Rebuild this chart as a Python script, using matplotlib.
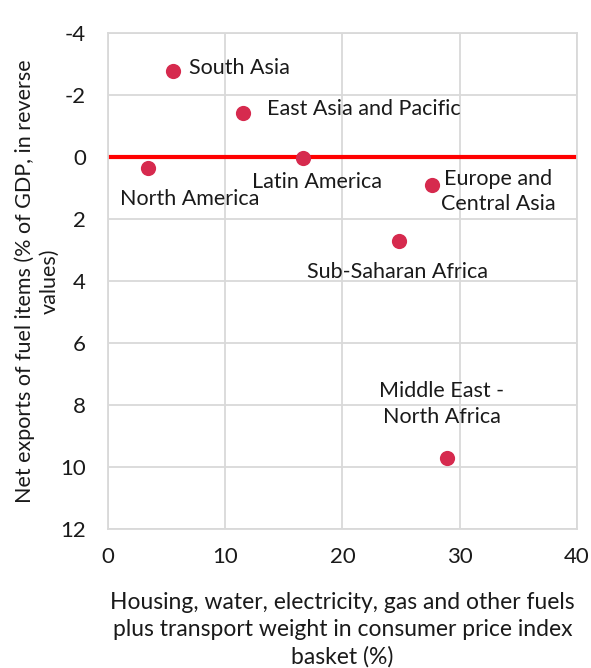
import matplotlib

matplotlib.use("Agg")
import matplotlib.pyplot as plt

regions = [
    "South Asia",
    "East Asia and Pacific",
    "North America",
    "Latin America",
    "Europe and\nCentral Asia",
    "Sub-Saharan Africa",
    "Middle East -\nNorth Africa",
]
cpi_weight = [5.5, 11.5, 3.4, 16.6, 27.6, 24.8, 28.95]
net_fuel_exports = [-2.78, -1.4, 0.36, 0.05, 0.9, 2.73, 9.7]

# label offsets in points, relative to each marker
offsets = [(12, 2), (17, 3), (30, -22), (10, -17), (48, -5), (-1, -22), (-4, 38.5)]
aligns = ["left", "left", "center", "center", "center", "center", "center"]

plt.rcParams["font.family"] = ["Lato", "DejaVu Sans"]
plt.rcParams["axes.unicode_minus"] = False

fig = plt.figure(figsize=(5.91, 6.68), dpi=100)
ax = fig.add_axes([0.183, 0.208, 0.793, 0.743])

ax.axhline(0, color="#FF0000", linewidth=3, zorder=2)
ax.scatter(cpi_weight, net_fuel_exports, s=120, color="#D62A4E", zorder=3,
           linewidths=0)

for name, x, y, off, ha in zip(regions, cpi_weight, net_fuel_exports, offsets, aligns):
    ax.annotate(name, (x, y), xytext=off, textcoords="offset points",
                ha=ha, va="center", fontsize=15.5, color="#1a1a1a",
                linespacing=1.35)

ax.set_xlim(0, 40)
ax.set_ylim(12, -4)
ax.set_xticks(range(0, 41, 10))
ax.set_yticks(range(-4, 13, 2))
ax.grid(color="#D9D9D9", linewidth=1.3)
ax.set_axisbelow(True)
for sp in ax.spines.values():
    sp.set_color("#D9D9D9")
    sp.set_linewidth(1.3)
ax.tick_params(axis="y", length=0, labelsize=16, pad=16, colors="#1a1a1a")
ax.tick_params(axis="x", length=0, labelsize=16, pad=13, colors="#1a1a1a")

ax.set_xlabel("Housing, water, electricity, gas and other fuels\n"
              "plus transport weight in consumer price index\nbasket (%)",
              fontsize=16.5, labelpad=18, linespacing=1.35, color="#1a1a1a")
ax.set_ylabel("Net exports of fuel items (% of GDP, in reverse\nvalues)",
              fontsize=15.5, linespacing=1.3, color="#1a1a1a", va="center")
ax.yaxis.set_label_coords(-0.151, 0.5)

fig.savefig("out.png", dpi=100, facecolor="white")
